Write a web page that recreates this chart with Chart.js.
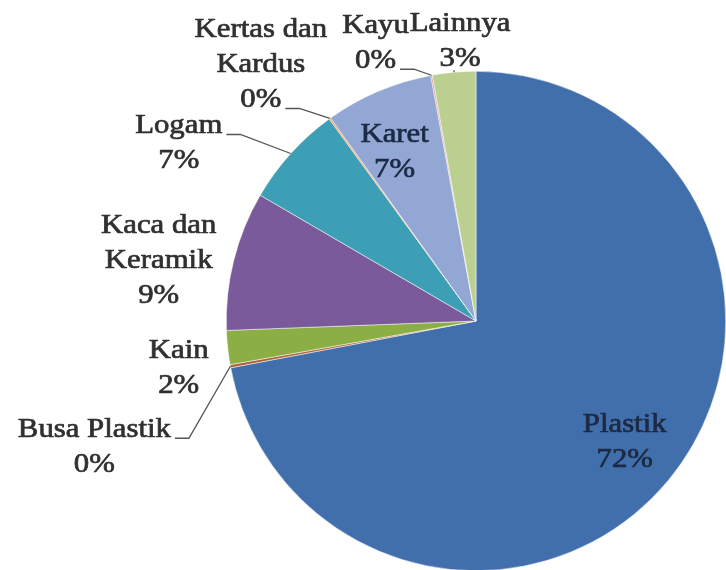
<!DOCTYPE html>
<html>
<head>
<meta charset="utf-8">
<script src="https://cdn.jsdelivr.net/npm/chart.js@4/dist/chart.umd.min.js"></script>
<style>
  html, body { margin: 0; padding: 0; background: #fff; overflow: hidden; }
  #wrap { width: 726px; height: 600px; }
</style>
</head>
<body>
<div id="wrap"><canvas id="chart1" width="726" height="600"></canvas></div>
<script>
// Komposisi sampah (persen)
const categories = ['Plastik', 'Busa Plastik', 'Kain', 'Kaca dan Keramik', 'Logam',
                    'Kertas dan Kardus', 'Karet', 'Kayu', 'Lainnya'];
const shares = [72.0, 0.2, 2.2, 9.0, 6.6, 0.1, 7.0, 0.1, 2.8];
const sliceColors = ['#416FAB', '#B0603A', '#8BAE45', '#7A5A9A', '#3D9FB5',
                     '#F79646', '#93A7D4', '#D99694', '#BBD090'];

// how each label is broken into lines
const labelLines = [['Plastik'], ['Busa Plastik'], ['Kain'], ['Kaca dan', 'Keramik'], ['Logam'],
                    ['Kertas dan', 'Kardus'], ['Karet'], ['Kayu'], ['Lainnya']];

// label placement: k = fraction of radius along slice middle, dx/dy = shift of first baseline
// leader: null, 'down', or {line: index of the text line the leader starts from}
const labelLayout = [
  { k: 0.7, dx: 14, dy: 0, inside: true, leader: null },
  { k: 1, dx: -136, dy: 71, leader: { line: 0 } },
  { k: 1, dx: -49, dy: 10, leader: null },
  { k: 1, dx: -75, dy: -27, leader: null },
  { k: 1, dx: -112, dy: -20, leader: { line: 0 } },
  { k: 1, dx: -69, dy: -81, leader: { line: 2 } },
  { k: 0.7, dx: -13, dy: -18, inside: true, leader: null },
  { k: 1, dx: -56, dy: -42, leader: { line: 1 } },
  { k: 1, dx: 6, dy: -41, leader: 'down' }
];

const total = shares.reduce((a, b) => a + b, 0);

const pieLabels = {
  id: 'pieLabels',
  afterDatasetsDraw(chart) {
    const ctx = chart.ctx;
    const arcs = chart.getDatasetMeta(0).data;
    const sx = 1.14;
    const lh = 35;
    ctx.save();
    ctx.font = '27px "Liberation Serif", "Times New Roman", serif';
    ctx.textBaseline = 'alphabetic';
    arcs.forEach((arc, i) => {
      const p = arc.getProps(['x', 'y', 'startAngle', 'endAngle', 'outerRadius'], true);
      const mid = (p.startAngle + p.endAngle) / 2;
      const lay = labelLayout[i];
      const r = p.outerRadius * lay.k;
      const ax = p.x + Math.cos(mid) * r;
      const ay = p.y + Math.sin(mid) * r;
      const tx = ax + lay.dx;
      const ty = ay + lay.dy;
      const lines = labelLines[i].concat([Math.round(shares[i] / total * 100) + '%']);
      const col = lay.inside ? '#1C2A44' : '#303030';
      ctx.fillStyle = col;
      ctx.strokeStyle = col;
      ctx.lineWidth = 0.7;
      ctx.textAlign = 'center';
      lines.forEach((s, j) => {
        ctx.save();
        ctx.translate(tx, ty + j * lh);
        ctx.scale(sx, 1);
        ctx.fillText(s, 0, 0);
        ctx.strokeText(s, 0, 0);
        ctx.restore();
      });
      // leader line
      if (lay.leader) {
        const ex = p.x + Math.cos(mid) * p.outerRadius;
        const ey = p.y + Math.sin(mid) * p.outerRadius;
        ctx.strokeStyle = '#555555';
        ctx.lineWidth = 1.3;
        ctx.beginPath();
        if (lay.leader === 'down') {
          ctx.moveTo(ex, ty + (lines.length - 1) * lh + 4);
          ctx.lineTo(ex, ey);
        } else {
          const ln = lay.leader.line;
          const w = ctx.measureText(lines[ln]).width * sx;
          const y0 = ty + ln * lh + 1;
          const x0 = tx + w / 2 + 4;
          ctx.moveTo(x0, y0);
          ctx.lineTo(x0 + 14, y0);
          ctx.lineTo(ex, ey);
        }
        ctx.stroke();
      }
    });
    ctx.restore();
  }
};

const config1 = {
  type: 'pie',
  data: {
    labels: categories,
    datasets: [{
      data: shares,
      backgroundColor: sliceColors,
      borderColor: '#ffffff',
      borderWidth: 0.5,
      hoverOffset: 0
    }]
  },
  options: {
    responsive: false,
    animation: false,
    layout: {
      padding: { left: 226, right: 0, top: 71, bottom: 29 }
    },
    plugins: {
      legend: { display: false },
      tooltip: { enabled: false }
    }
  },
  plugins: [pieLabels]
};

const chart1 = new Chart(document.getElementById('chart1').getContext('2d'), config1);
</script>
</body>
</html>
